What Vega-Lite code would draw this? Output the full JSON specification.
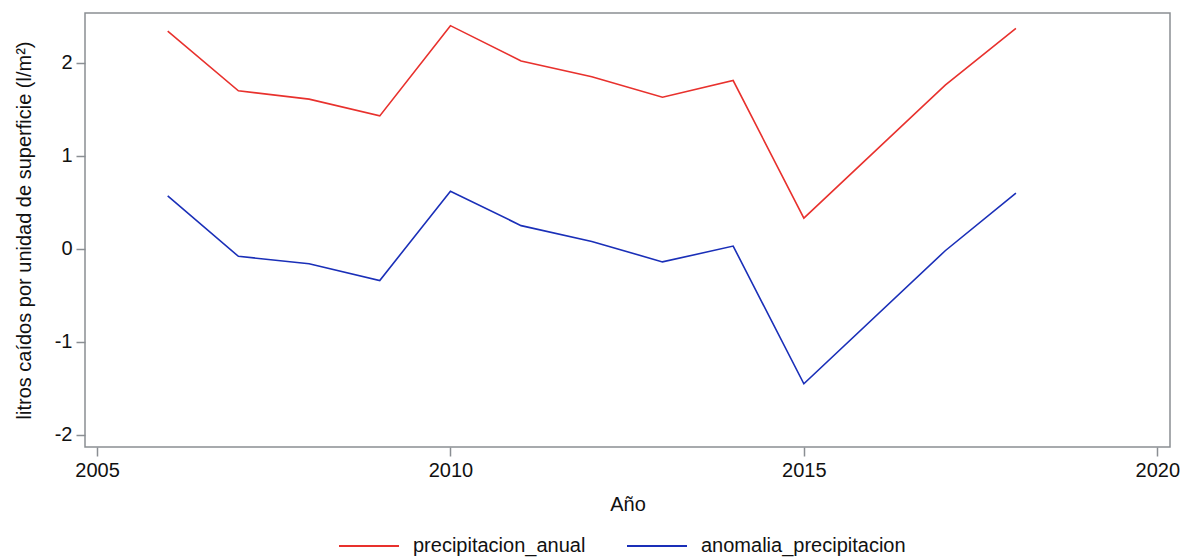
{
  "$schema": "https://vega.github.io/schema/vega-lite/v6.json",
  "width": 1085,
  "height": 434,
  "autosize": {"type": "none"},
  "padding": {"left": 85, "top": 13, "right": 19, "bottom": 111},
  "background": "white",
  "config": {
    "font": "Liberation Sans",
    "view": {"stroke": "#8a8e93", "strokeWidth": 1.5}
  },
  "data": {
    "values": [
      {"year": 2006, "serie": "precipitacion_anual", "valor": 2.34},
      {"year": 2007, "serie": "precipitacion_anual", "valor": 1.70},
      {"year": 2008, "serie": "precipitacion_anual", "valor": 1.61},
      {"year": 2009, "serie": "precipitacion_anual", "valor": 1.43},
      {"year": 2010, "serie": "precipitacion_anual", "valor": 2.40},
      {"year": 2011, "serie": "precipitacion_anual", "valor": 2.02},
      {"year": 2012, "serie": "precipitacion_anual", "valor": 1.85},
      {"year": 2013, "serie": "precipitacion_anual", "valor": 1.63},
      {"year": 2014, "serie": "precipitacion_anual", "valor": 1.81},
      {"year": 2015, "serie": "precipitacion_anual", "valor": 0.33},
      {"year": 2017, "serie": "precipitacion_anual", "valor": 1.76},
      {"year": 2018, "serie": "precipitacion_anual", "valor": 2.37},
      {"year": 2006, "serie": "anomalia_precipitacion", "valor": 0.57},
      {"year": 2007, "serie": "anomalia_precipitacion", "valor": -0.08},
      {"year": 2008, "serie": "anomalia_precipitacion", "valor": -0.16},
      {"year": 2009, "serie": "anomalia_precipitacion", "valor": -0.34},
      {"year": 2010, "serie": "anomalia_precipitacion", "valor": 0.62},
      {"year": 2011, "serie": "anomalia_precipitacion", "valor": 0.25},
      {"year": 2012, "serie": "anomalia_precipitacion", "valor": 0.08},
      {"year": 2013, "serie": "anomalia_precipitacion", "valor": -0.14},
      {"year": 2014, "serie": "anomalia_precipitacion", "valor": 0.03},
      {"year": 2015, "serie": "anomalia_precipitacion", "valor": -1.45},
      {"year": 2017, "serie": "anomalia_precipitacion", "valor": -0.02},
      {"year": 2018, "serie": "anomalia_precipitacion", "valor": 0.60}
    ]
  },
  "mark": {"type": "line", "strokeWidth": 1.6},
  "encoding": {
    "x": {
      "field": "year",
      "type": "quantitative",
      "title": "Año",
      "scale": {"domain": [2004.83, 2020.18], "nice": false, "zero": false},
      "axis": {
        "values": [2005, 2010, 2015, 2020],
        "format": "d",
        "grid": false,
        "domain": false,
        "tickColor": "#8a8e93",
        "tickSize": 9,
        "tickWidth": 1.5,
        "labelFontSize": 20,
        "labelColor": "#111111",
        "labelPadding": 4,
        "titleFontSize": 20,
        "titleFontWeight": "normal",
        "titleColor": "#111111",
        "titlePadding": 14
      }
    },
    "y": {
      "field": "valor",
      "type": "quantitative",
      "title": "litros caídos por unidad de superficie (l/m²)",
      "scale": {"domain": [-2.13, 2.536], "nice": false, "zero": false},
      "axis": {
        "values": [-2, -1, 0, 1, 2],
        "labelExpr": "'' + datum.value",
        "grid": false,
        "domain": false,
        "tickColor": "#8a8e93",
        "tickSize": 9,
        "tickWidth": 1.5,
        "labelFontSize": 20,
        "labelColor": "#111111",
        "labelPadding": 4,
        "titleFontSize": 20,
        "titleFontWeight": "normal",
        "titleColor": "#111111",
        "titlePadding": 20
      }
    },
    "color": {
      "field": "serie",
      "type": "nominal",
      "scale": {
        "domain": ["precipitacion_anual", "anomalia_precipitacion"],
        "range": ["#e8312d", "#1a2fb8"]
      },
      "legend": {
        "title": null,
        "orient": "none",
        "direction": "horizontal",
        "legendX": 253,
        "legendY": 502,
        "symbolType": "stroke",
        "symbolSize": 3600,
        "symbolStrokeWidth": 2,
        "labelFontSize": 20,
        "labelLimit": 400,
        "labelColor": "#111111",
        "labelOffset": 13,
        "columnPadding": 37
      }
    }
  }
}
